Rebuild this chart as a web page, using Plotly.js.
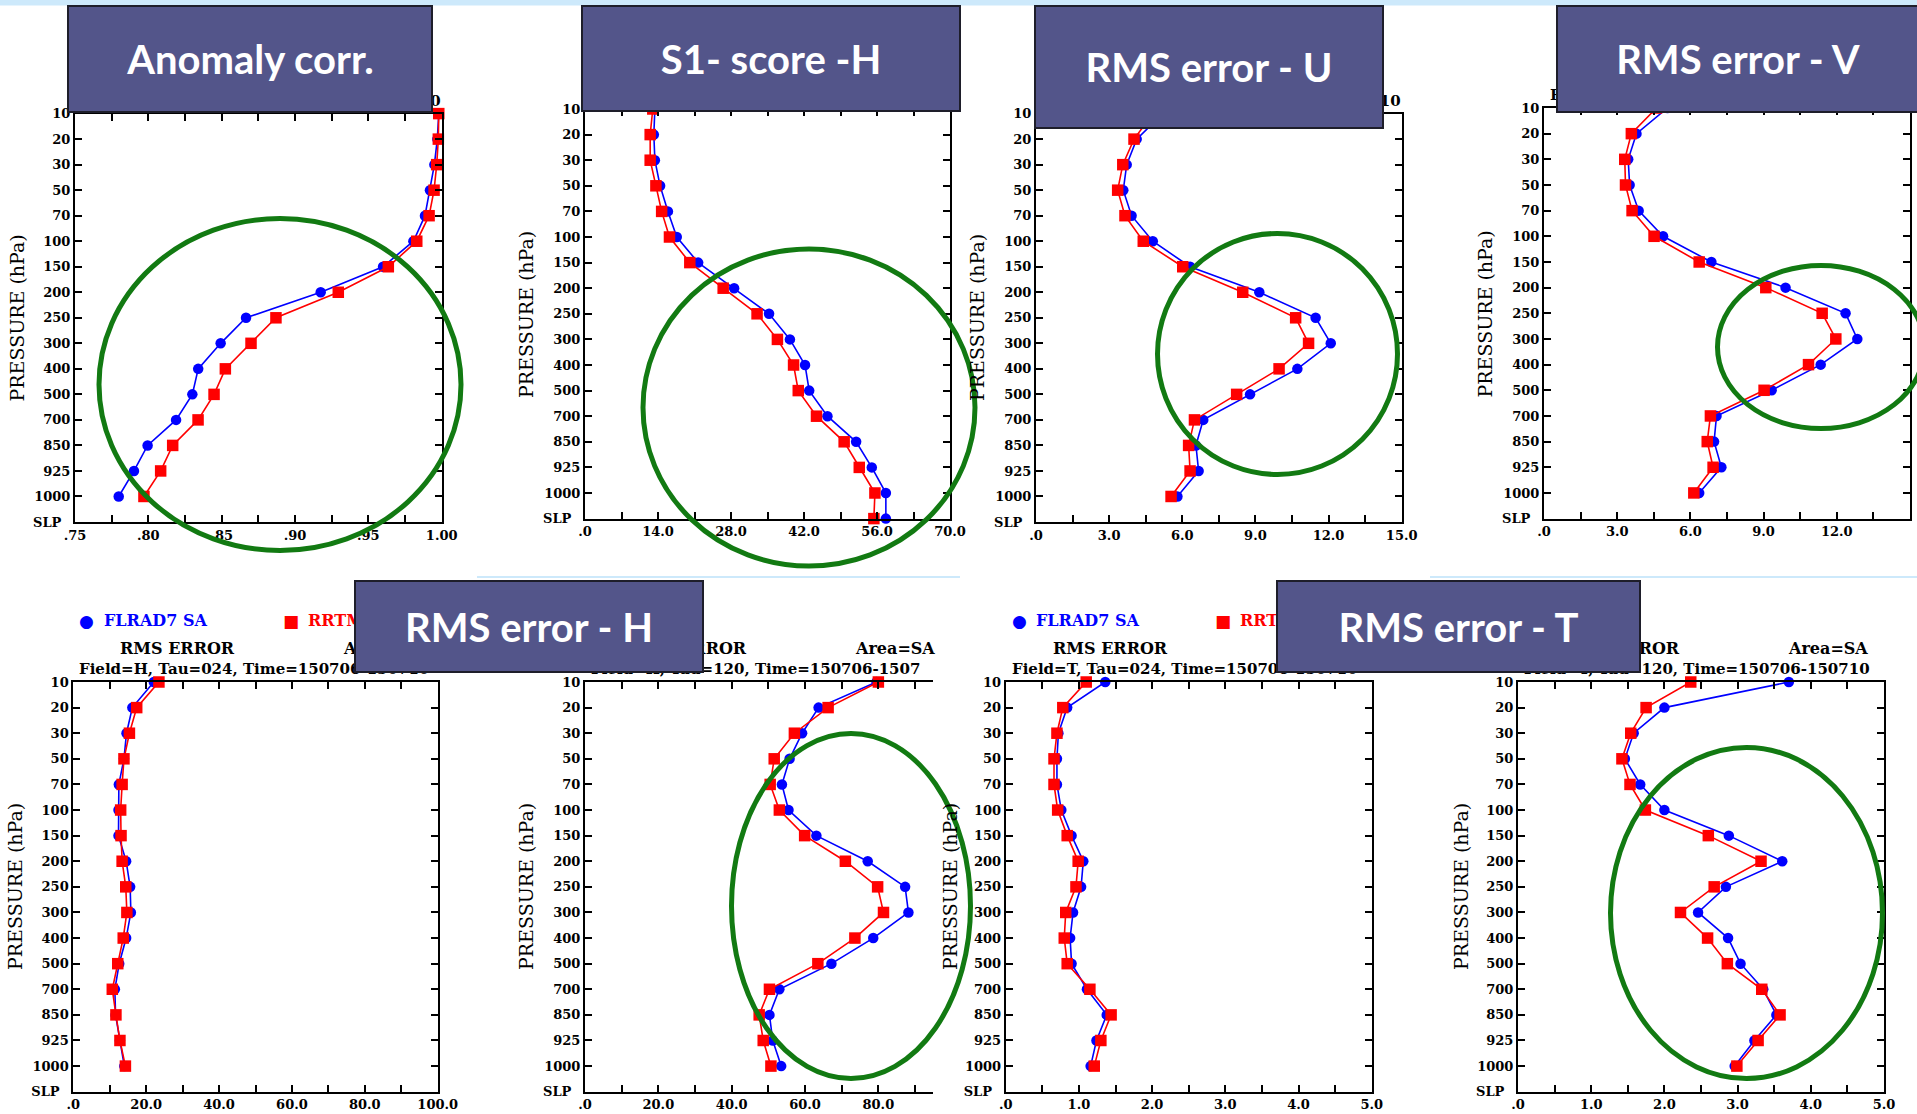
<!DOCTYPE html>
<html><head><meta charset="utf-8">
<script src="https://cdn.plot.ly/plotly-3.0.1.min.js"></script>
<style>html,body{margin:0;padding:0;background:#fff;overflow:hidden}#chart{width:1917px;height:1114px}</style>
</head><body><div id="chart"></div>
<script>
// ---- data ----
const LEVELS = ['10','20','30','50','70','100','150','200','250','300','400','500','700','850','925','1000','SLP'];
const LEVEL_LABELS = ['10','20','30','50','70','100','150','200','250','300','400','500','700','850','925','1000','SLP\u00a0\u00a0'];

const AC_FLRAD7 = [0.998,0.997,0.995,0.992,0.9886,0.9807,0.960,0.9175,0.8666,0.8493,0.834,0.830,0.8189,0.7995,0.7902,0.7798,null];
const AC_RRTM   = [0.998,0.9977,0.9966,0.9948,0.9914,0.983,0.9636,0.9295,0.887,0.870,0.8525,0.8448,0.8339,0.8166,0.8084,0.797,null];

const S1_FLRAD7 = [13.4,13.2,13.4,14.4,15.9,17.6,21.7,28.6,35.3,39.3,42.2,43.0,46.5,52.0,55.0,57.7,57.7];
const S1_RRTM   = [13.0,12.5,12.5,13.6,14.7,16.2,20.1,26.5,33.0,36.9,40.0,40.9,44.4,49.7,52.6,55.6,55.4];

const U_FLRAD7 = [5.2,4.13,3.72,3.58,3.92,4.79,6.32,9.16,11.47,12.09,10.72,8.78,6.86,6.56,6.67,5.80,null];
const U_RRTM   = [4.8,4.02,3.56,3.35,3.65,4.40,6.02,8.48,10.65,11.18,9.97,8.23,6.50,6.26,6.32,5.54,null];

const V_FLRAD7 = [5.06,3.79,3.45,3.51,3.88,4.88,6.86,9.90,12.36,12.84,11.34,9.33,7.07,6.97,7.27,6.36,null];
const V_RRTM   = [4.61,3.58,3.31,3.34,3.61,4.51,6.36,9.09,11.40,11.96,10.84,9.02,6.82,6.69,6.93,6.14,null];

const H24_FLRAD7 = [22.1,16.2,14.6,13.9,12.5,12.4,12.4,14.5,15.6,15.8,14.5,12.6,11.4,11.6,12.8,14.0,null];
const H24_RRTM   = [23.5,17.4,15.4,13.9,13.4,13.0,13.1,13.4,14.4,14.7,13.7,12.2,10.7,11.7,12.8,14.3,null];

const H120_FLRAD7 = [79.5,63.7,59.2,55.8,53.7,55.5,63.1,77.1,87.3,88.2,78.6,67.2,53.0,50.3,51.2,53.5,null];
const H120_RRTM   = [80.0,66.3,57.1,51.6,50.5,53.0,59.9,71.0,79.8,81.4,73.6,63.5,50.3,47.5,48.6,50.7,null];

const T24_FLRAD7 = [1.36,0.84,0.72,0.70,0.70,0.76,0.90,1.06,1.03,0.92,0.88,0.90,1.11,1.38,1.24,1.16,null];
const T24_RRTM   = [1.10,0.78,0.70,0.66,0.66,0.71,0.84,0.99,0.96,0.82,0.80,0.84,1.15,1.44,1.30,1.21,null];

const T120_FLRAD7 = [3.70,2.00,1.58,1.46,1.67,2.00,2.88,3.61,2.84,2.46,2.87,3.04,3.35,3.53,3.23,2.96,null];
const T120_RRTM   = [2.36,1.75,1.54,1.42,1.53,1.74,2.60,3.32,2.68,2.22,2.59,2.86,3.33,3.58,3.28,2.99,null];

const TICKS_AC  = ['.75','','.80','','.85','','.90','','.95','','1.00'];
const TICKS_S1  = ['.0','','14.0','','28.0','','42.0','','56.0','','70.0'];
const TICKS_15  = ['.0','','3.0','','6.0','','9.0','','12.0','','15.0'];
const TICKS_100 = ['.0','','20.0','','40.0','','60.0','','80.0','','100.0'];
const TICKS_5   = ['.0','','1.0','','2.0','','3.0','','4.0','','5.0'];

const BOX_TITLES = ['Anomaly corr.','S1- score -H','RMS error - U','RMS error - V','RMS error - H','RMS error - T'];
const SERIES_NAMES = ['FLRAD7 SA','RRTMG SA'];

// ---- layout helpers ----
const W = 1917, H = 1114;
const px = x => x / W, py = y => 1 - y / H;

const panels = [
  {fl:AC_FLRAD7, rr:AC_RRTM, x0:75, x1:441.7, y0:113.6, y1:522, t0:0.75, step:0.025, r1:1.0, labels:TICKS_AC, mirrorY:true},
  {fl:S1_FLRAD7, rr:S1_RRTM, x0:585, x1:950, y0:109, y1:518.6, t0:0, step:7, r1:70, labels:TICKS_S1, mirrorY:true},
  {fl:U_FLRAD7, rr:U_RRTM, x0:1036, x1:1401.7, y0:113.6, y1:522, t0:0, step:1.5, r1:15, labels:TICKS_15, mirrorY:true},
  {fl:V_FLRAD7, rr:V_RRTM, x0:1544, x1:1910, y0:108, y1:518.6, t0:0, step:1.5, r1:15, labels:TICKS_15, mirrorY:true},
  {fl:H24_FLRAD7, rr:H24_RRTM, x0:73.3, x1:437.7, y0:682, y1:1091.7, t0:0, step:10, r1:100, labels:TICKS_100, mirrorY:true},
  {fl:H120_FLRAD7, rr:H120_RRTM, x0:585, x1:933, y0:682, y1:1091.7, t0:0, step:10, r1:94.9, labels:TICKS_100, mirrorY:false},
  {fl:T24_FLRAD7, rr:T24_RRTM, x0:1005.7, x1:1371.7, y0:682, y1:1091.7, t0:0, step:0.5, r1:5, labels:TICKS_5, mirrorY:true},
  {fl:T120_FLRAD7, rr:T120_RRTM, x0:1518, x1:1884, y0:682, y1:1091.7, t0:0, step:0.5, r1:5, labels:TICKS_5, mirrorY:true}
];

const tickFont = {family:'DejaVu Serif', size:13, weight:'bold', color:'#000'};
const data = [];
const layout = {
  width:W, height:H, margin:{l:0,r:0,t:0,b:0}, paper_bgcolor:'#fff', plot_bgcolor:'#fff',
  showlegend:false, shapes:[], annotations:[]
};

panels.forEach((p, i) => {
  const n = i + 1, sx = n === 1 ? '' : String(n);
  const tickvals = p.labels.map((_, k) => +(p.t0 + k * p.step).toFixed(4));
  layout['xaxis' + sx] = {
    domain:[px(p.x0), px(p.x1)], range:[p.t0, p.r1], anchor:'y' + sx,
    tickmode:'array', tickvals:tickvals, ticktext:p.labels,
    ticks:'inside', ticklen:7, tickwidth:2, tickcolor:'#000',
    showline:true, linewidth:2, linecolor:'#000', mirror:'ticks',
    showgrid:false, zeroline:false, tickfont:tickFont, fixedrange:true
  };
  layout['yaxis' + sx] = {
    domain:[py(p.y1), py(p.y0)], anchor:'x' + sx, type:'category',
    categoryorder:'array', categoryarray:LEVELS, range:[LEVELS.length - 1, 0],
    tickmode:'array', tickvals:LEVELS, ticktext:LEVEL_LABELS,
    ticks:'inside', ticklen:7, tickwidth:2, tickcolor:'#000',
    showline:true, linewidth:2, linecolor:'#000', mirror:p.mirrorY ? 'ticks' : false,
    showgrid:false, zeroline:false, tickfont:tickFont, fixedrange:true
  };
  data.push({x:p.fl, y:LEVELS, xaxis:'x' + sx, yaxis:'y' + sx, type:'scatter', mode:'lines+markers',
    name:SERIES_NAMES[0], cliponaxis:false,
    line:{color:'#0000ff', width:1.6}, marker:{symbol:'circle', size:10.5, color:'#0000ff'}});
  data.push({x:p.rr, y:LEVELS, xaxis:'x' + sx, yaxis:'y' + sx, type:'scatter', mode:'lines+markers',
    name:SERIES_NAMES[1], cliponaxis:false,
    line:{color:'#ff0000', width:1.6}, marker:{symbol:'square', size:11.5, color:'#ff0000'}});
});

// background decorations
layout.shapes.push({type:'rect', xref:'paper', yref:'paper', x0:0, x1:1, y0:py(5.4), y1:1,
  fillcolor:'#cde9fb', line:{width:0}, layer:'below'});
layout.shapes.push({type:'line', xref:'paper', yref:'paper', x0:px(477), x1:px(960), y0:py(577), y1:py(577),
  line:{color:'#cde9fb', width:2}, layer:'below'});
layout.shapes.push({type:'line', xref:'paper', yref:'paper', x0:px(1430), x1:1, y0:py(577), y1:py(577),
  line:{color:'#cde9fb', width:2}, layer:'below'});

// green highlight ellipses (cx, cy, rx, ry in px)
const ELLIPSES = [[280,384.5,181,166],[809,407.5,166,158.5],[1277.5,354,120,120.5],[1821,347,103.5,81.5],[851,906,119.5,172.5],[1746.5,913,136,165.5]];
ELLIPSES.forEach(e => {
  layout.shapes.push({type:'circle', xref:'paper', yref:'paper',
    x0:px(e[0]-e[2]), x1:px(e[0]+e[2]), y0:py(e[1]+e[3]), y1:py(e[1]-e[3]),
    line:{color:'#127a12', width:5}, fillcolor:'rgba(0,0,0,0)', layer:'above'});
});

function txt(text, x, y, anchor, font) {
  layout.annotations.push({xref:'paper', yref:'paper', x:px(x), y:py(y), xanchor:anchor, yanchor:'middle',
    text:text, showarrow:false, font:font, borderpad:0});
}
const hdr = (c, s) => ({family:'DejaVu Serif', size:s || 16, weight:'bold', color:c || '#000'});

// partially hidden header fragments of top row
txt('150710', 442, 101, 'right', hdr('#000', 15));
txt('150710', 1402, 101, 'right', hdr('#000', 15));
txt('RMS ERROR', 1549, 95, 'left', hdr('#000', 15));

// bottom row headers
[[73.3, true, 'Field=H, Tau=024, Time=150706-150710'],
 [585, false, 'Field=H, Tau=120, Time=150706-1507'],
 [1005.7, true, 'Field=T, Tau=024, Time=150706-150710'],
 [1518, false, 'Field=T, Tau=120, Time=150706-150710']].forEach(h => {
  const L = h[0];
  if (h[1]) {
    txt('\u25CF', L + 13.6, 621, 'center', {family:'DejaVu Sans', size:17, color:'#0000ff'});
    txt(SERIES_NAMES[0], L + 29.7, 621, 'left', hdr('#0000ff'));
    txt('\u25A0', L + 217.7, 621, 'center', {family:'DejaVu Sans', size:17, color:'#ff0000'});
    txt(SERIES_NAMES[1], L + 233.7, 621, 'left', hdr('#ff0000'));
  }
  txt('RMS ERROR', L + 46, 648, 'left', hdr());
  txt('Area=SA', L + 269, 648, 'left', hdr());
  txt(h[2], L + 5, 669, 'left', hdr('#000', 15));
});

// y-axis titles
[[16.5,318],[526.5,314.5],[977,318],[1485,314.5],[15,887],[526,887],[950,887],[1461,887]].forEach(t => {
  layout.annotations.push({xref:'paper', yref:'paper', x:px(t[0]), y:py(t[1]), xanchor:'center', yanchor:'middle',
    text:'PRESSURE (hPa)', textangle:-90, showarrow:false,
    font:{family:'DejaVu Serif', size:19, color:'#000'}});
});

// slide title boxes (drawn last, on top)
const BOXES = [[68,432,6,112],[582,960,6,111],[1035,1383,6,127.5],[1557,1919,6,112],[355,703,581,672],[1277,1640,581,672]];
BOXES.forEach((b, i) => {
  layout.annotations.push({xref:'paper', yref:'paper', x:px((b[0]+b[1])/2), y:py((b[2]+b[3])/2),
    xanchor:'center', yanchor:'middle', text:BOX_TITLES[i], showarrow:false,
    width:b[1]-b[0]-2, height:b[3]-b[2]-2, bgcolor:'#53558a', bordercolor:'#1e1e2a', borderwidth:2, borderpad:0,
    align:'center', valign:'middle', font:{family:'Lato', size:40, weight:'bold', color:'#ffffff'}});
});

Plotly.newPlot('chart', data, layout, {staticPlot:true, displayModeBar:false});
</script></body></html>
